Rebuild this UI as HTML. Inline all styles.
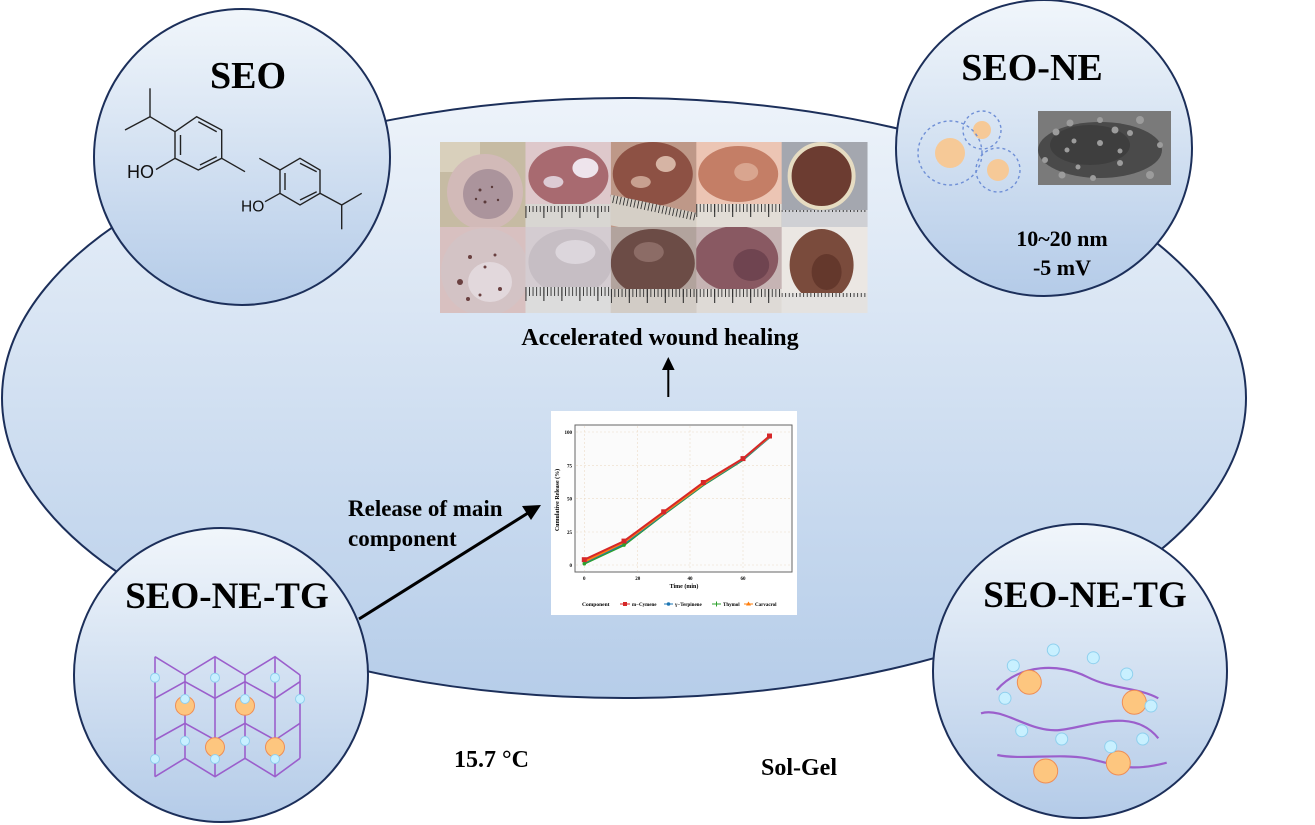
<!DOCTYPE html>
<html><head><meta charset="utf-8">
<style>
html,body{margin:0;padding:0;background:#fff;}
svg{display:block;}
.t{font-family:"Liberation Serif","Times New Roman",serif;font-weight:bold;fill:#000;}
.s{font-family:"Liberation Sans",Arial,sans-serif;fill:#111;}
</style></head><body>
<svg width="1315" height="825" viewBox="0 0 1315 825" xmlns="http://www.w3.org/2000/svg">
<defs>
<linearGradient id="gE" x1="0" y1="0" x2="0" y2="1">
<stop offset="0" stop-color="#edf3fa"/><stop offset="1" stop-color="#b6cde9"/>
</linearGradient>
<linearGradient id="gC" x1="0" y1="0" x2="0" y2="1">
<stop offset="0" stop-color="#f1f6fb"/><stop offset="1" stop-color="#b4cbe8"/>
</linearGradient>
<pattern id="rul" x="0" y="0" width="3.6" height="30" patternUnits="userSpaceOnUse">
<rect x="0" y="0" width="0.9" height="10" fill="#333"/>
</pattern>
<pattern id="rulL" x="0" y="0" width="18" height="30" patternUnits="userSpaceOnUse">
<rect x="0" y="0" width="1" height="16" fill="#222"/>
</pattern>
</defs>

<!-- big ellipse -->
<ellipse cx="624" cy="398" rx="622" ry="300" fill="url(#gE)" stroke="#1c2f5a" stroke-width="2"/>

<!-- circles -->
<circle cx="242" cy="157" r="148" fill="url(#gC)" stroke="#1c2f5a" stroke-width="2"/>
<circle cx="1044" cy="148" r="148" fill="url(#gC)" stroke="#1c2f5a" stroke-width="2"/>
<circle cx="221" cy="675" r="147" fill="url(#gC)" stroke="#1c2f5a" stroke-width="2"/>
<circle cx="1080" cy="671" r="147" fill="url(#gC)" stroke="#1c2f5a" stroke-width="2"/>

<!-- SEO circle -->
<text class="t" x="248" y="88" font-size="38" text-anchor="middle">SEO</text>
<g stroke="#222" stroke-width="1.4" fill="none">
<polygon points="196.7,116.7 221.7,130 221.7,158.3 198.3,170 175,158.3 175,131.7"/>
<line x1="180.5" y1="135" x2="180.5" y2="155"/>
<line x1="198.3" y1="121.7" x2="216.7" y2="131.7"/>
<line x1="200" y1="165" x2="216.7" y2="156.7"/>
<line x1="175" y1="131.7" x2="150" y2="116.7"/>
<line x1="150" y1="116.7" x2="150" y2="88.3"/>
<line x1="150" y1="116.7" x2="125" y2="130"/>
<line x1="221.7" y1="158.3" x2="245" y2="171.7"/>
<line x1="175" y1="158.3" x2="156" y2="169.5"/>
<polygon points="300,158.3 320,170 320,193.3 300,205 280,193.3 280,170"/>
<line x1="285" y1="173" x2="285" y2="190"/>
<line x1="300" y1="163.3" x2="316.7" y2="171.7"/>
<line x1="300" y1="200" x2="316.7" y2="191.7"/>
<line x1="280" y1="170" x2="259.3" y2="158.3"/>
<line x1="280" y1="193.3" x2="265" y2="201.7"/>
<line x1="320" y1="193.3" x2="341.7" y2="205"/>
<line x1="341.7" y1="205" x2="361.7" y2="193.3"/>
<line x1="341.7" y1="205" x2="341.7" y2="229.3"/>
</g>
<text class="s" x="127" y="178" font-size="18">HO</text>
<text class="s" x="241" y="211.5" font-size="15.5">HO</text>

<!-- SEO-NE circle -->
<text class="t" x="1032" y="80" font-size="38" text-anchor="middle">SEO-NE</text>
<circle cx="950" cy="153" r="15" fill="#f6c997"/>
<circle cx="982" cy="130" r="9" fill="#f6c997"/>
<circle cx="998" cy="170" r="11" fill="#f6c997"/>
<g fill="none" stroke="#6f8fd6" stroke-width="1.4" stroke-dasharray="3,3">
<circle cx="950" cy="153" r="32"/>
<circle cx="982" cy="130" r="19"/>
<circle cx="998" cy="170" r="22"/>
</g>
<rect x="1038" y="111" width="133" height="74" fill="#7a7a7a"/>
<ellipse cx="1100" cy="150" rx="62" ry="28" fill="#4a4a4a"/>
<ellipse cx="1090" cy="145" rx="40" ry="20" fill="#3e3e3e"/>
<g fill="#9c9c9c">
<circle cx="1070" cy="123" r="3.5"/><circle cx="1056" cy="132" r="3.5"/><circle cx="1100" cy="120" r="3"/>
<circle cx="1115" cy="130" r="3.5"/><circle cx="1074" cy="141" r="2.5"/><circle cx="1100" cy="143" r="3"/>
<circle cx="1067" cy="150" r="2.5"/><circle cx="1120" cy="151" r="2.5"/><circle cx="1130" cy="133" r="3"/>
<circle cx="1120" cy="163" r="3"/><circle cx="1078" cy="167" r="2.5"/><circle cx="1062" cy="175" r="3.5"/>
<circle cx="1093" cy="178" r="3"/><circle cx="1150" cy="175" r="4"/><circle cx="1045" cy="160" r="3"/>
<circle cx="1140" cy="120" r="4"/><circle cx="1160" cy="145" r="3"/>
</g>
<text class="t" x="1062" y="246" font-size="22" text-anchor="middle">10~20 nm</text>
<text class="t" x="1062" y="275" font-size="22" text-anchor="middle">-5 mV</text>

<!-- bottom-left SEO-NE-TG -->
<text class="t" x="227" y="608" font-size="37" text-anchor="middle">SEO-NE-TG</text>
<g stroke="#9b5fcc" stroke-width="1.6" fill="none">
<polyline points="155,656.7 185,675 215,656.7 245,675 275,656.7 300,675"/>
<polyline points="155,698.3 185,681.7 215,698.3 245,681.7 275,698.3 300,681.7"/>
<polyline points="155,740 185,723.3 215,740 245,723.3 275,740 300,723.3"/>
<polyline points="155,776.7 185,758.3 215,776.7 245,758.3 275,776.7 300,758.3"/>
<line x1="155" y1="656.7" x2="155" y2="776.7"/>
<line x1="215" y1="656.7" x2="215" y2="776.7"/>
<line x1="275" y1="656.7" x2="275" y2="776.7"/>
<line x1="185" y1="675" x2="185" y2="758.3"/>
<line x1="245" y1="675" x2="245" y2="758.3"/>
<line x1="300" y1="675" x2="300" y2="758.3"/>
</g>
<g fill="#fdc67f" stroke="#ef8d55" stroke-width="1">
<circle cx="185" cy="705.7" r="9.5"/><circle cx="245" cy="705.7" r="9.5"/>
<circle cx="215" cy="747.3" r="9.5"/><circle cx="275" cy="747.3" r="9.5"/>
</g>
<g fill="#c8f0ff" stroke="#8fd0ee" stroke-width="1">
<circle cx="155" cy="677.7" r="4.5"/><circle cx="215" cy="677.7" r="4.5"/><circle cx="275" cy="677.7" r="4.5"/>
<circle cx="185" cy="699" r="4.5"/><circle cx="245" cy="699" r="4.5"/><circle cx="300" cy="699" r="4.5"/>
<circle cx="185" cy="741" r="4.5"/><circle cx="245" cy="741" r="4.5"/>
<circle cx="155" cy="759" r="4.5"/><circle cx="215" cy="759" r="4.5"/><circle cx="275" cy="759" r="4.5"/>
</g>

<!-- bottom-right SEO-NE-TG -->
<text class="t" x="1085" y="607" font-size="37" text-anchor="middle">SEO-NE-TG</text>
<g stroke="#9b5fcc" stroke-width="2.2" fill="none">
<path d="M996.7,690 C1020,663.3 1060,663.3 1086.7,676.7 S1136.7,686.7 1158.3,698.3"/>
<path d="M981,713.3 C1003.3,706.7 1030,733.3 1060,730 S1133.3,706.7 1158.3,738.3"/>
<path d="M997.3,755 C1020,760 1060,753.3 1086.7,758.3 S1126.7,773.3 1166.7,762.7"/>
</g>
<g fill="#fdc67f" stroke="#ef8d55" stroke-width="1">
<circle cx="1029.3" cy="682.3" r="12"/><circle cx="1134.3" cy="702.3" r="12"/>
<circle cx="1045.7" cy="771" r="12"/><circle cx="1118.3" cy="763" r="12"/>
</g>
<g fill="#c8f0ff" stroke="#8fd0ee" stroke-width="1">
<circle cx="1053.3" cy="650" r="6"/><circle cx="1093.3" cy="657.7" r="6"/><circle cx="1013.3" cy="665.7" r="6"/>
<circle cx="1126.7" cy="674" r="6"/><circle cx="1005" cy="698.3" r="6"/><circle cx="1151" cy="706" r="6"/>
<circle cx="1021.7" cy="730.7" r="6"/><circle cx="1061.7" cy="739" r="6"/><circle cx="1142.7" cy="739" r="6"/>
<circle cx="1110.7" cy="746.7" r="6"/>
</g>

<!-- photo grid -->
<svg x="440" y="142" width="86" height="85">
<rect width="86" height="85" fill="#c6bba3"/>
<rect width="40" height="30" fill="#d9d0bc"/>
<circle cx="45" cy="50" r="38" fill="#d2bab8"/>
<circle cx="48" cy="52" r="25" fill="#ab949c"/>
<g fill="#5a3a3a"><circle cx="40" cy="48" r="1.5"/><circle cx="52" cy="45" r="1.2"/><circle cx="45" cy="60" r="1.5"/><circle cx="58" cy="58" r="1.2"/><circle cx="36" cy="57" r="1.2"/></g>
</svg>
<svg x="525.4" y="142" width="86" height="85">
<rect width="86" height="85" fill="#dec8cb"/>
<ellipse cx="43" cy="34" rx="40" ry="30" fill="#a86a70"/>
<ellipse cx="60" cy="26" rx="13" ry="10" fill="#eee4ec"/>
<ellipse cx="28" cy="40" rx="10" ry="6" fill="#ddcbd4"/>
<rect y="62" width="86" height="23" fill="#d8d6d2"/>
<rect y="64" width="86" height="8" fill="url(#rul)"/>
<rect y="64" width="86" height="14" fill="url(#rulL)"/>
</svg>
<svg x="610.8" y="142" width="86" height="85">
<rect width="86" height="85" fill="#be9888"/>
<ellipse cx="42" cy="32" rx="40" ry="32" fill="#8d5144"/>
<ellipse cx="55" cy="22" rx="10" ry="8" fill="#d6b4a4"/>
<ellipse cx="30" cy="40" rx="10" ry="6" fill="#c8a090"/>
<g transform="rotate(12 43 72)">
<rect x="-10" y="62" width="106" height="30" fill="#d5cfc6"/>
<rect x="-10" y="62" width="106" height="8" fill="url(#rul)"/>
</g>
</svg>
<svg x="696.2" y="142" width="86" height="85">
<rect width="86" height="85" fill="#ecc5b4"/>
<ellipse cx="42" cy="32" rx="40" ry="28" fill="#c47e66"/>
<ellipse cx="50" cy="30" rx="12" ry="9" fill="#d9a58f"/>
<rect y="62" width="86" height="23" fill="#e2ddd6"/>
<rect y="62" width="86" height="8" fill="url(#rul)"/>
<rect y="62" width="86" height="13" fill="url(#rulL)"/>
</svg>
<svg x="781.6" y="142" width="86" height="85">
<rect width="86" height="85" fill="#a4a7af"/>
<circle cx="40" cy="34" r="32" fill="#6c3c31" stroke="#e6dcc2" stroke-width="4"/>
<rect y="68" width="86" height="17" fill="#cfd0d4"/>
<rect y="68" width="86" height="10" fill="url(#rul)"/>
</svg>

<svg x="440" y="227" width="86" height="86">
<rect width="86" height="86" fill="#d8c0c0"/>
<circle cx="45" cy="45" r="44" fill="#d3c3c5"/>
<ellipse cx="50" cy="55" rx="22" ry="20" fill="#e2d8dc"/>
<g fill="#6a4040"><circle cx="30" cy="30" r="2"/><circle cx="20" cy="55" r="3"/><circle cx="45" cy="40" r="1.5"/><circle cx="60" cy="62" r="2"/><circle cx="40" cy="68" r="1.5"/><circle cx="55" cy="28" r="1.5"/><circle cx="28" cy="72" r="2"/></g>
</svg>
<svg x="525.4" y="227" width="86" height="86">
<rect width="86" height="86" fill="#d4ccd1"/>
<ellipse cx="45" cy="35" rx="42" ry="33" fill="#c6bec4"/>
<ellipse cx="50" cy="25" rx="20" ry="12" fill="#dcd6dc"/>
<rect y="60" width="86" height="26" fill="#dcdcdc"/>
<rect y="60" width="86" height="9" fill="url(#rul)"/>
<rect y="60" width="86" height="14" fill="url(#rulL)"/>
</svg>
<svg x="610.8" y="227" width="86" height="86">
<rect width="86" height="86" fill="#b2a39d"/>
<ellipse cx="42" cy="36" rx="42" ry="34" fill="#6c4c46"/>
<ellipse cx="38" cy="25" rx="15" ry="10" fill="#8c6c66"/>
<rect y="62" width="86" height="24" fill="#d2ccc6"/>
<rect y="62" width="86" height="9" fill="url(#rul)"/>
<rect y="62" width="86" height="14" fill="url(#rulL)"/>
</svg>
<svg x="696.2" y="227" width="86" height="86">
<rect width="86" height="86" fill="#c6b4b4"/>
<ellipse cx="40" cy="32" rx="42" ry="33" fill="#895962"/>
<ellipse cx="55" cy="38" rx="18" ry="16" fill="#6f4450"/>
<rect y="62" width="86" height="24" fill="#dedad6"/>
<rect y="62" width="86" height="9" fill="url(#rul)"/>
<rect y="62" width="86" height="14" fill="url(#rulL)"/>
</svg>
<svg x="781.6" y="227" width="86" height="86">
<rect width="86" height="86" fill="#ebe7e3"/>
<ellipse cx="40" cy="38" rx="32" ry="36" fill="#7a4b3c"/>
<ellipse cx="45" cy="45" rx="15" ry="18" fill="#64382c"/>
<rect y="66" width="86" height="20" fill="#e4e2e0"/>
<rect y="66" width="86" height="10" fill="url(#rul)"/>
</svg>

<text class="t" x="660" y="345" font-size="24" text-anchor="middle">Accelerated wound healing</text>

<!-- up arrow -->
<line x1="668.3" y1="397" x2="668.3" y2="368" stroke="#000" stroke-width="2"/>
<polygon points="668.3,357 662,370 674.6,370" fill="#000"/>

<!-- chart -->
<rect x="551" y="411" width="246" height="204" fill="#fff"/>
<rect x="575" y="425" width="217" height="147" fill="#fbfbfb" stroke="#666" stroke-width="1"/>
<g stroke="#ecdcc8" stroke-width="0.6" stroke-dasharray="2,2">
<line x1="584.3" y1="426" x2="584.3" y2="571"/><line x1="637.7" y1="426" x2="637.7" y2="571"/>
<line x1="690" y1="426" x2="690" y2="571"/><line x1="743" y1="426" x2="743" y2="571"/>
<line x1="576" y1="432" x2="791" y2="432"/><line x1="576" y1="465.7" x2="791" y2="465.7"/>
<line x1="576" y1="498.7" x2="791" y2="498.7"/><line x1="576" y1="532" x2="791" y2="532"/>
<line x1="576" y1="565" x2="791" y2="565"/>
</g>
<g class="t" font-size="5" text-anchor="end">
<text x="572" y="434">100</text><text x="572" y="467.5">75</text><text x="572" y="500.5">50</text>
<text x="572" y="534">25</text><text x="572" y="567">0</text>
</g>
<g class="t" font-size="5" text-anchor="middle">
<text x="584.3" y="580">0</text><text x="637.7" y="580">20</text><text x="690" y="580">40</text><text x="743" y="580">60</text>
</g>
<text class="t" x="684" y="588" font-size="6" text-anchor="middle">Time (min)</text>
<text class="t" font-size="6" text-anchor="middle" transform="translate(559 500) rotate(-90)">Cumulative Release (%)</text>
<g fill="none" stroke-width="2">
<polyline stroke="#2ca02c" points="584.3,563.7 624,545.1 663.7,514.5 703.3,485.2 743,459.9 769.5,437.3"/>
<polyline stroke="#1f77b4" points="584.3,562.3 624,543.7 663.7,513.8 703.3,484.5 743,459.3 769.5,437.3"/>
<polyline stroke="#ff7f0e" points="584.3,561.7 624,542.4 663.7,513.1 703.3,483.9 743,458.6 769.5,436.7"/>
<polyline stroke="#d62728" points="584.3,559.7 624,541.1 663.7,511.8 703.3,482.5 743,458.6 769.5,436"/>
</g>
<g fill="#d62728">
<rect x="581.8" y="557.2" width="5" height="5"/><rect x="621.5" y="538.6" width="5" height="5"/>
<rect x="661.2" y="509.3" width="5" height="5"/><rect x="700.8" y="480" width="5" height="5"/>
<rect x="740.5" y="456.1" width="5" height="5"/><rect x="767" y="433.5" width="5" height="5"/>
</g>
<g fill="#2ca02c">
<circle cx="584.3" cy="563.7" r="1.8"/><circle cx="624" cy="545.1" r="1.8"/>
</g>
<text class="t" x="582" y="606" font-size="5.5">Component</text>
<rect x="623" y="602" width="4" height="4" fill="#d62728"/><line x1="620" y1="604" x2="630" y2="604" stroke="#d62728"/>
<text class="t" x="632" y="606" font-size="5">m−Cymene</text>
<line x1="664" y1="604" x2="673" y2="604" stroke="#1f77b4"/><circle cx="668.5" cy="604" r="1.8" fill="#1f77b4"/>
<text class="t" x="675" y="606" font-size="5">γ−Terpinene</text>
<line x1="712" y1="604" x2="721" y2="604" stroke="#2ca02c"/><line x1="716.5" y1="601.5" x2="716.5" y2="606.5" stroke="#2ca02c"/>
<text class="t" x="723" y="606" font-size="5">Thymol</text>
<line x1="744" y1="604" x2="753" y2="604" stroke="#ff7f0e"/><polygon points="748.5,601.5 746,605.5 751,605.5" fill="#ff7f0e"/>
<text class="t" x="755" y="606" font-size="5">Carvacrol</text>

<!-- release arrow -->
<line x1="359" y1="619" x2="528" y2="513" stroke="#000" stroke-width="3"/>
<polygon points="541,505 522,506 531,520" fill="#000"/>
<text class="t" x="348" y="516" font-size="23">Release of main</text>
<text class="t" x="348" y="546" font-size="23">component</text>

<text class="t" x="454" y="767" font-size="24">15.7 °C</text>
<text class="t" x="761" y="775" font-size="24">Sol-Gel</text>
</svg>
</body></html>
